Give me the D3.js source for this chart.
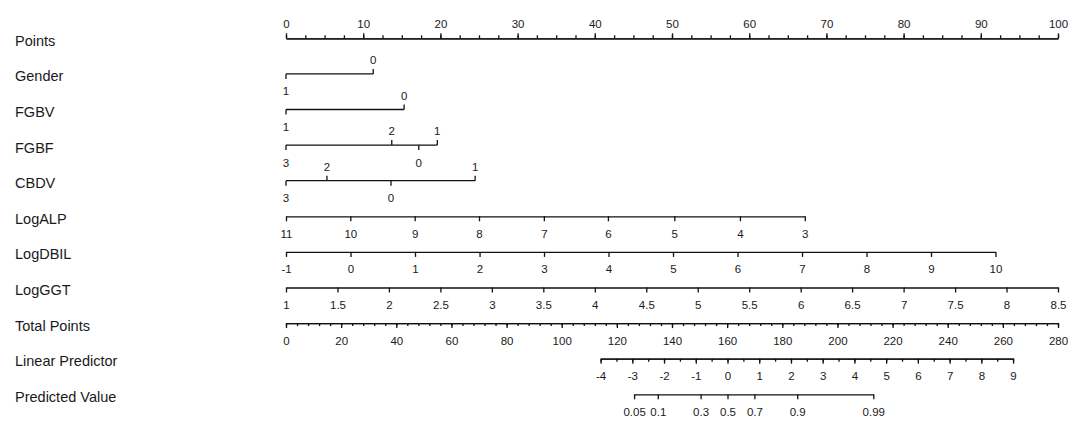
<!DOCTYPE html>
<html><head><meta charset="utf-8">
<script src="https://cdn.jsdelivr.net/npm/d3@7"></script>
<style>
html,body{margin:0;padding:0;background:#fff;}
svg{display:block;}
text{font-family:"Liberation Sans",Arial,sans-serif;fill:#1a1a1a;}
</style></head>
<body>
<svg id="c" width="1084" height="428"></svg>
<script>
// ---------- data ----------
const rowNames = ["Points","Gender","FGBV","FGBF","CBDV","LogALP","LogDBIL","LogGGT","Total Points","Linear Predictor","Predicted Value"];

const pointsTicks = [0,10,20,30,40,50,60,70,80,90,100];
const pointsMinorStep = 2.5;

const genderLevels = ["1","0"];
const genderPoints = [0, 11.3];
const fgbvLevels = ["1","0"];
const fgbvPoints = [0, 15.3];
const fgbfLevels = ["3","2","0","1"];
const fgbfPoints = [0, 13.7, 17.2, 19.6];
const cbdvLevels = ["3","2","0","1"];
const cbdvPoints = [0, 5.3, 13.6, 24.5];

const alpValues = [11,10,9,8,7,6,5,4,3];
const alpPoints = [0, 8.33, 16.67, 25.0, 33.4, 41.7, 50.3, 58.8, 67.2];
const dbilValues = [-1,0,1,2,3,4,5,6,7,8,9,10];
const dbilPoints = [0, 8.36, 16.71, 25.07, 33.42, 41.78, 50.13, 58.49, 66.84, 75.2, 83.55, 91.9];
const ggtValues = [1,1.5,2,2.5,3,3.5,4,4.5,5,5.5,6,6.5,7,7.5,8,8.5];
const ggtPoints = [0, 6.67, 13.33, 20, 26.67, 33.33, 40, 46.67, 53.33, 60, 66.67, 73.33, 80, 86.67, 93.33, 100];

const totalTicks = [0,20,40,60,80,100,120,140,160,180,200,220,240,260,280];
const totalMinorStep = 4;

const lpTicks = [-4,-3,-2,-1,0,1,2,3,4,5,6,7,8,9];
const lpTotalPoints = [114.1, 263.7];   // total points at lp -4 and lp 9
const lpMinorStep = 0.5;

const predTicks = [0.05,0.1,0.3,0.5,0.7,0.9,0.99];

// ---------- layout ----------
const svg = d3.select("#c");
const X0 = 286, X1 = 1058;
const rowY = i => 38.3 + i * 35.6;
const lineColor = "#111";
const lineW = 1.3;
const tickFont = 11.5;
const fmt = d => String(d);

const pointsX = d3.scaleLinear().domain([0,100]).range([X0, X1]);
const totalX = d3.scaleLinear().domain([0,280]).range([X0, X1]);
const lpX = d3.scaleLinear().domain([lpTicks[0], lpTicks[lpTicks.length-1]]).range(lpTotalPoints.map(totalX));
const logit = p => Math.log(p/(1-p));

// row labels
svg.append("g").selectAll("text").data(rowNames).join("text")
  .attr("x", 15).attr("y", (d,i) => rowY(i) + 7.5)
  .style("font-size", "14.5px")
  .text(d => d);

function styleAxis(g, above) {
  g.select(".domain").attr("stroke", lineColor).attr("stroke-width", lineW);
  g.selectAll(".tick line").attr("stroke", lineColor).attr("stroke-width", lineW);
  g.selectAll(".tick text")
    .attr("fill", "#1a1a1a")
    .style("font-family", '"Liberation Sans",Arial,sans-serif')
    .style("font-size", tickFont + "px")
    .attr("dy", null)
    .attr("y", above ? -10 : 21.5);
  g.attr("font-family", null).attr("font-size", null);
}

function drawContinuous(i, scale, ticks, minorStep, above) {
  const y = rowY(i);
  if (minorStep) {
    const d = scale.domain();
    const lo = Math.min(d[0], d[d.length-1]), hi = Math.max(d[0], d[d.length-1]);
    const minor = d3.range(lo, hi + minorStep/2, minorStep);
    const gm = svg.append("g").attr("transform", `translate(0,${y})`)
      .call((above ? d3.axisTop(scale) : d3.axisBottom(scale))
        .tickValues(minor).tickSize(3).tickSizeOuter(0).tickFormat(""));
    gm.select(".domain").attr("stroke", lineColor).attr("stroke-width", lineW);
    gm.selectAll(".tick line").attr("stroke", lineColor).attr("stroke-width", lineW);
  }
  const g = svg.append("g").attr("transform", `translate(0,${y})`)
    .call((above ? d3.axisTop(scale) : d3.axisBottom(scale))
      .tickValues(ticks).tickSize(5).tickSizeOuter(0).tickFormat(fmt));
  styleAxis(g, above);
}

function drawCategorical(i, levels, pts) {
  const y = rowY(i);
  const g = svg.append("g").attr("transform", `translate(0,${y})`);
  const items = levels.map((l, k) => ({l, p: pts[k]})).sort((a,b) => a.p - b.p);
  g.append("line")
    .attr("x1", pointsX(d3.min(pts))).attr("x2", pointsX(d3.max(pts)))
    .attr("stroke", lineColor).attr("stroke-width", lineW);
  items.forEach((d, k) => {
    const up = k % 2 === 1;
    const x = pointsX(d.p);
    g.append("line").attr("x1", x).attr("x2", x).attr("y1", 0).attr("y2", up ? -5 : 5)
      .attr("stroke", lineColor).attr("stroke-width", lineW);
    g.append("text").attr("x", x).attr("y", up ? -10 : 21.5)
      .attr("text-anchor", "middle").style("font-size", tickFont + "px").text(d.l);
  });
}

// Points
drawContinuous(0, pointsX, pointsTicks, pointsMinorStep, true);
// categorical
drawCategorical(1, genderLevels, genderPoints);
drawCategorical(2, fgbvLevels, fgbvPoints);
drawCategorical(3, fgbfLevels, fgbfPoints);
drawCategorical(4, cbdvLevels, cbdvPoints);
// continuous predictors
const alpX = d3.scaleLinear().domain(alpValues).range(alpPoints.map(pointsX));
drawContinuous(5, alpX, alpValues, null, false);
const dbilX = d3.scaleLinear().domain(dbilValues).range(dbilPoints.map(pointsX));
drawContinuous(6, dbilX, dbilValues, null, false);
const ggtX = d3.scaleLinear().domain(ggtValues).range(ggtPoints.map(pointsX));
drawContinuous(7, ggtX, ggtValues, null, false);
// total points
drawContinuous(8, totalX, totalTicks, totalMinorStep, false);
// linear predictor
drawContinuous(9, lpX, lpTicks, lpMinorStep, false);
// predicted value (positioned on the linear-predictor scale through the logit)
const predScale = v => lpX(logit(v));
predScale.domain = () => predTicks;
predScale.range = () => [lpX(logit(predTicks[0])), lpX(logit(predTicks[predTicks.length-1]))];
predScale.copy = () => predScale;
drawContinuous(10, predScale, predTicks, null, false);
</script>
</body></html>
